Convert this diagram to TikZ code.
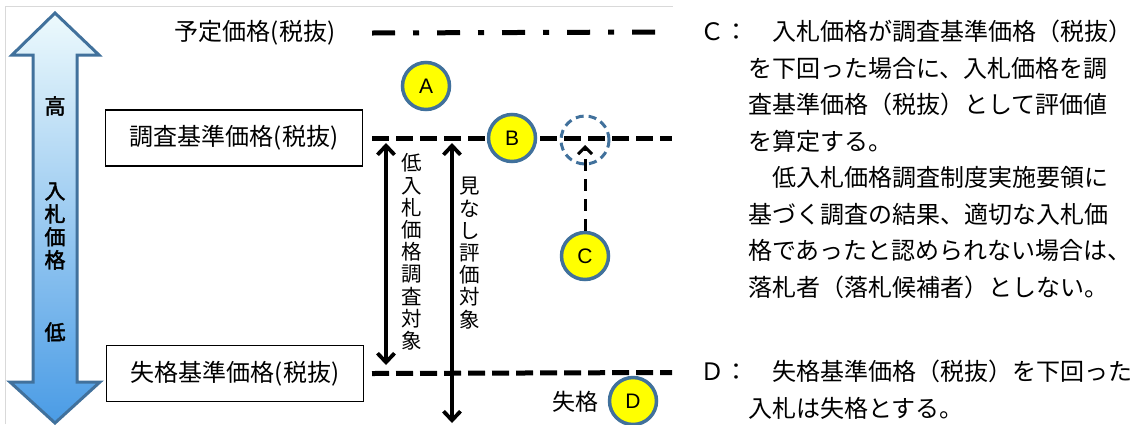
\documentclass[tikz,border=0pt]{standalone}
\usepackage{fontspec}
\setmainfont{Noto Sans CJK JP}[AutoFakeBold=2]
\newfontfamily\latinfont{Liberation Sans}
\usetikzlibrary{
  arrows.meta,
  positioning,
  calc
}
\usepackage{xcolor}
\definecolor{frameGray}{rgb}{0.85,0.85,0.85}
\definecolor{edgeBlue}{rgb}{0.2549,0.4431,0.6118}
\definecolor{markYellow}{rgb}{1,1,0}
\definecolor{paleCyan}{rgb}{0.93,0.98,0.99}
\definecolor{midCyan}{rgb}{0.64,0.88,0.94}
\definecolor{deepBlue}{rgb}{0.29,0.61,0.90}
\tikzset{
  letterdot/.style={
    circle,
    fill=markYellow,
    draw=edgeBlue,
    line width=3.5pt,
    minimum size=47pt,
    inner sep=0pt,
    font=\latinfont\fontsize{21}{21}\selectfont
  },
  limitbox/.style={
    draw,
    line width=1.8pt,
    minimum width=257pt,
    minimum height=56pt,
    font=\fontsize{24}{24}\selectfont
  },
  priceline/.style={
    line width=5pt,
    dash pattern=on 17pt off 7pt
  },
  rangearrow/.style={
    line width=3.8pt,
    {Straight Barb[length=9pt,width=17pt]}-{Straight Barb[length=9pt,width=17pt]}
  },
  upright/.style={
    align=center,
    inner sep=0pt,
    font=\fontsize{20.5}{22.2}\selectfont
  },
  notetext/.style={
    align=left,
    inner sep=0pt,
    anchor=north west,
    font=\fontsize{24}{36.5}\selectfont
  }
}

\begin{document}
\begin{tikzpicture}[x=1pt, y=-1pt]
      \useasboundingbox (0,0) rectangle (1139,424);

      % frame
      \draw[frameGray, line width=1.2pt] (5.5,424) -- (5.5,6.5) -- (673,6.5);

      % price scale arrow
      \path[draw=edgeBlue, line width=3pt, line join=miter,
        top color=paleCyan, middle color=midCyan, bottom color=deepBlue]
      (55,13) -- (99,55) -- (77,55) -- (77,382) -- (100,382) -- (55,423)
      -- (10,382) -- (33,382) -- (33,55) -- (12,55) -- cycle;
      \node[font=\bfseries\fontsize{21}{21}\selectfont, inner sep=0pt] (high) at (55,106) {高};
      \node[align=center, inner sep=0pt, font=\bfseries\fontsize{21}{23}\selectfont] (bid) at (55,226) {入\\札\\価\\格};
      \node[font=\bfseries\fontsize{21}{21}\selectfont, inner sep=0pt] (low) at (55,332) {低};

      % limits
      \node[font=\fontsize{24}{24}\selectfont] (planned) at (255,33) {予定価格(税抜)};
      \node[limitbox] (survey) at (234,138) {調査基準価格(税抜)};
      \node[limitbox] (fail) at (235,373.5) {失格基準価格(税抜)};

      \coordinate (plannedR) at (660,32);
      \coordinate (surveyR) at (672,138);
      \coordinate (failR) at (672,372.5);
      \draw[line width=5pt, dash pattern=on 23pt off 18pt on 6pt off 18pt]
      (planned.east -| 372,32) -- (plannedR);
      \draw[priceline] (survey.east -| 372,138) -- (surveyR);
      \draw[priceline] (fail.east -| 372,372.5) -- (failR);

      % cases
      \foreach \n/\x/\y in {A/426/86, B/512/138, C/585/256, D/633/401}{
        \node[letterdot] (\n) at (\x,\y) {\n};
      }
      \node[circle, draw=edgeBlue, line width=3pt, dash pattern=on 8pt off 5pt,
        minimum size=48pt, inner sep=0pt] (Cup) at (585,140) {};
      \coordinate (CupTip) at (585,145);
      \draw[line width=3pt, dash pattern=on 12pt off 8pt,
        -{Straight Barb[length=7pt,width=14pt]}] (C) -- (CupTip);
      \node[font=\fontsize{23}{23}\selectfont, inner sep=0pt] (out) at (575,402) {失格};

      % ranges
      \coordinate (surveyTop) at (386,143);
      \coordinate (surveyEnd) at (386,365);
      \coordinate (deemTop) at (452,143);
      \coordinate (deemEnd) at (452,423);
      \draw[rangearrow] (surveyTop) -- (surveyEnd);
      \draw[rangearrow] (deemTop) -- (deemEnd);
      \node[upright] (surveyTxt) at (412,252) {低\\入\\札\\価\\格\\調\\査\\対\\象};
      \node[upright] (deemTxt) at (470,253) {見\\な\\し\\評\\価\\対\\象};

      % notes
      \node[notetext] (noteC) at (700,20) {Ｃ：　入札価格が調査基準価格（税抜）\\
        \hspace*{2em}を下回った場合に、入札価格を調\\
        \hspace*{2em}査基準価格（税抜）として評価値\\
        \hspace*{2em}を算定する。\\
        \hspace*{3em}低入札価格調査制度実施要領に\\
        \hspace*{2em}基づく調査の結果、適切な入札価\\
        \hspace*{2em}格であったと認められない場合は、\\
        \hspace*{2em}落札者（落札候補者）としない。};
      \node[notetext] (noteD) at (700,360) {Ｄ：　失格基準価格（税抜）を下回った\\
        \hspace*{2em}入札は失格とする。};
    \end{tikzpicture}
\end{document}
